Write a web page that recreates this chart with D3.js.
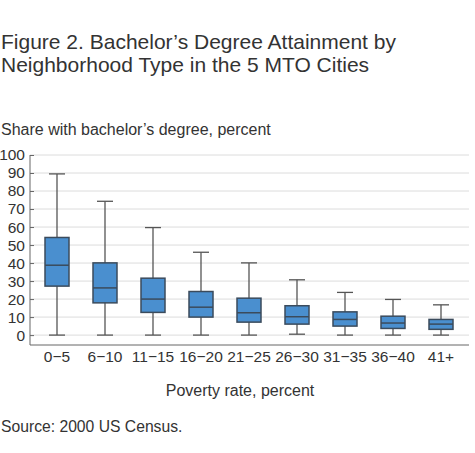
<!DOCTYPE html>
<html>
<head>
<meta charset="utf-8">
<script src="https://cdn.jsdelivr.net/npm/d3@7"></script>
<style>
  body { margin: 0; background: #fff; }
  text { font-family: "Liberation Sans", Arial, sans-serif; fill: #333; }
</style>
</head>
<body>
<script>
// poverty-rate groups and box plot stats (share with bachelor's degree, %)
const categories = ['0\u22125', '6\u221210', '11\u221215', '16\u221220', '21\u221225', '26\u221230', '31\u221235', '36\u221240', '41+'];
const whiskerLow = [0, 0, 0, 0, 0, 0.5, 0, 0, 0];
const q1 = [27.2, 17.9, 12.6, 10, 7.2, 6.1, 5.0, 3.7, 3.2];
const median = [38.8, 26.2, 20, 15.5, 12.4, 10.2, 8.7, 6.7, 6.1];
const q3 = [54.2, 40.1, 31.6, 24.2, 20.5, 16.3, 12.9, 10.5, 8.7];
const whiskerHigh = [89.5, 74.3, 59.7, 46, 40.1, 30.7, 23.7, 19.8, 16.8];
const yTicks = [0, 10, 20, 30, 40, 50, 60, 70, 80, 90, 100];

const w = 475, h = 453;

const data = categories.map((c, i) => ({
    cat: c, lo: whiskerLow[i], q1: q1[i], med: median[i], q3: q3[i], hi: whiskerHigh[i]
}));

const svg = d3.select('body').append('svg')
    .attr('width', w)
    .attr('height', h);

const xScale = d3.scaleBand()
    .domain(categories)
    .range([33, 465])
    .padding(0);

const yScale = d3.scaleLinear()
    .domain([-5.5, 100])
    .range([345, 155]);

const plotLeft = 30, plotRight = 469;

// title
svg.append('text')
    .attr('x', 1).attr('y', 49)
    .style('font-size', '21px')
    .text('Figure 2. Bachelor\u2019s Degree Attainment by');
svg.append('text')
    .attr('x', 1).attr('y', 72)
    .style('font-size', '21px')
    .text('Neighborhood Type in the 5 MTO Cities');

svg.append('text')
    .attr('x', 1).attr('y', 135)
    .style('font-size', '16px')
    .text('Share with bachelor\u2019s degree, percent');

// gridlines
svg.append('g')
    .selectAll('line')
    .data(yTicks)
    .enter()
    .append('line')
    .attr('x1', plotLeft).attr('x2', plotRight)
    .attr('y1', d => yScale(d)).attr('y2', d => yScale(d))
    .attr('stroke', '#dcdcdc')
    .attr('stroke-width', 1);

// y axis
const yAxisG = svg.append('g')
    .attr('transform', `translate(${plotLeft},0)`)
    .call(d3.axisRight(yScale).tickValues(yTicks).tickSize(4).tickFormat(d3.format('d')));
yAxisG.select('.domain').remove();
yAxisG.selectAll('.tick line').attr('stroke', '#666');
yAxisG.selectAll('.tick text')
    .attr('x', -5)
    .attr('text-anchor', 'end')
    .style('font-size', '15.5px')
    .attr('fill', '#333');

svg.append('line')
    .attr('x1', plotLeft).attr('x2', plotLeft)
    .attr('y1', yScale(100)).attr('y2', yScale(-5.5))
    .attr('stroke', '#666');

// x axis
const xAxisG = svg.append('g')
    .attr('transform', `translate(0,${yScale(-5.5)})`)
    .call(d3.axisBottom(xScale).tickSize(0).tickPadding(6));
xAxisG.select('.domain').remove();
xAxisG.selectAll('.tick text')
    .style('font-size', '15.5px')
    .attr('fill', '#333');

svg.append('line')
    .attr('x1', plotLeft).attr('x2', plotRight)
    .attr('y1', yScale(-5.5)).attr('y2', yScale(-5.5))
    .attr('stroke', '#666');

svg.append('text')
    .attr('x', 240).attr('y', 396)
    .attr('text-anchor', 'middle')
    .style('font-size', '16px')
    .text('Poverty rate, percent');

svg.append('text')
    .attr('x', 1).attr('y', 432)
    .style('font-size', '15.7px')
    .text('Source: 2000 US Census.');

// boxes
const boxW = 24, capW = 16;
const boxes = svg.append('g')
    .selectAll('g')
    .data(data)
    .enter()
    .append('g')
    .attr('transform', d => `translate(${xScale(d.cat) + xScale.bandwidth() / 2},0)`);

boxes.append('line')
    .attr('x1', 0).attr('x2', 0)
    .attr('y1', d => yScale(d.hi)).attr('y2', d => yScale(d.lo))
    .attr('stroke', '#555').attr('stroke-width', 1.3);

boxes.append('line')
    .attr('x1', -capW / 2).attr('x2', capW / 2)
    .attr('y1', d => yScale(d.hi)).attr('y2', d => yScale(d.hi))
    .attr('stroke', '#555').attr('stroke-width', 1.3);

boxes.append('line')
    .attr('x1', -capW / 2).attr('x2', capW / 2)
    .attr('y1', d => yScale(d.lo)).attr('y2', d => yScale(d.lo))
    .attr('stroke', '#555').attr('stroke-width', 1.3);

boxes.append('rect')
    .attr('x', -boxW / 2)
    .attr('width', boxW)
    .attr('y', d => yScale(d.q3))
    .attr('height', d => yScale(d.q1) - yScale(d.q3))
    .attr('fill', '#4a8fcf')
    .attr('stroke', '#3b4b5c')
    .attr('stroke-width', 1.5);

boxes.append('line')
    .attr('x1', -boxW / 2).attr('x2', boxW / 2)
    .attr('y1', d => yScale(d.med)).attr('y2', d => yScale(d.med))
    .attr('stroke', '#3b4b5c').attr('stroke-width', 1.5);
</script>
</body>
</html>
